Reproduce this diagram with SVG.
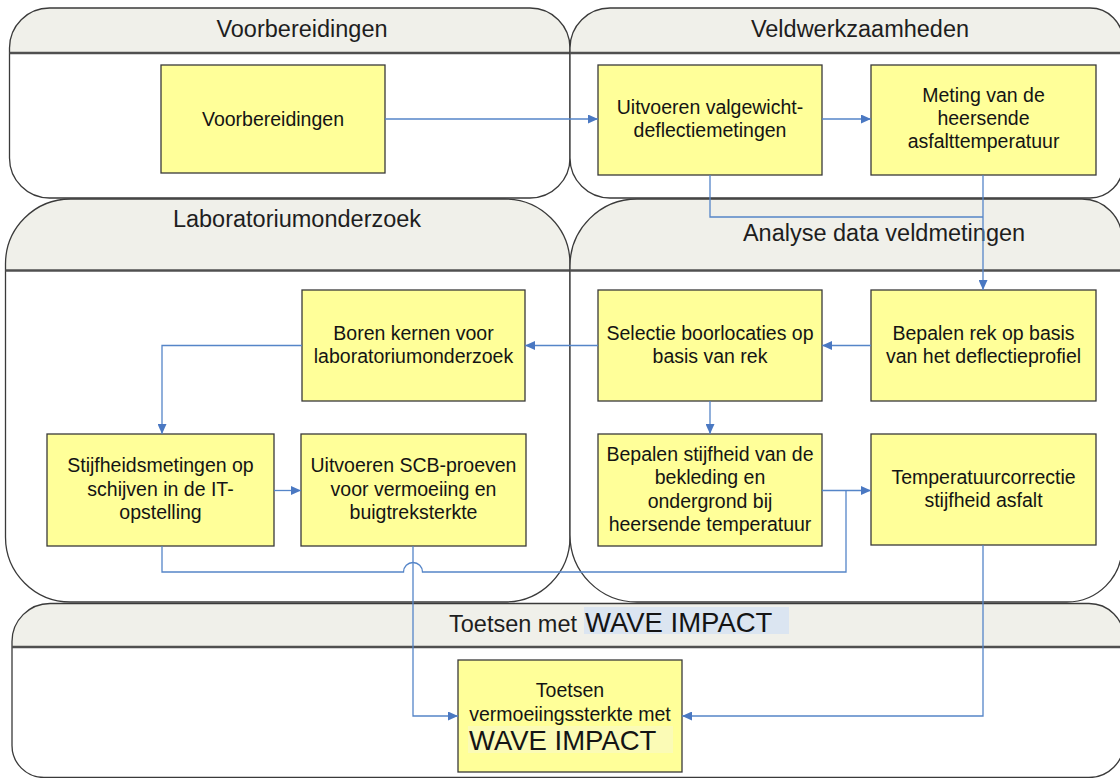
<svg xmlns="http://www.w3.org/2000/svg" xmlns:xlink="http://www.w3.org/1999/xlink" width="1120" height="778" viewBox="0 0 1120 778">
<style>
.lanebody{fill:#ffffff;stroke:none}
.laneedge{fill:none;stroke:#3a3a3a;stroke-width:1.3}
.hdr{fill:#f0f0ea}
.hline{stroke:#505050;stroke-width:2.4}
.ltitle{font-family:"Liberation Sans",Arial,sans-serif;font-size:23.5px;fill:#1e1e1e;text-anchor:middle}
.box{fill:#ffff99;stroke:#3a3a3a;stroke-width:1.3}
.bt{font-family:"Liberation Sans",Arial,sans-serif;font-size:19.5px;fill:#141414;text-anchor:middle}
.big{font-family:"Liberation Sans",Arial,sans-serif;font-size:27.5px;fill:#141414}
.con{fill:none;stroke:#5585c8;stroke-width:1.3}
</style>
<defs>
<marker id="arr" markerWidth="10" markerHeight="9" refX="10" refY="4.5" orient="auto" markerUnits="userSpaceOnUse">
<path d="M0,0 L10,4.5 L0,9 Z" fill="#4a78c2"/>
</marker>
<path id="s1" d="M49.5,8 H530 A40,40 0 0 1 570,48 V158 A40,40 0 0 1 530,198 H49.5 A40,40 0 0 1 9.5,158 V48 A40,40 0 0 1 49.5,8 Z"/>
<path id="s2" d="M610,8 H1090 A33,33 0 0 1 1123,41 V165 A33,33 0 0 1 1090,198 H610 A40,40 0 0 1 570,158 V48 A40,40 0 0 1 610,8 Z"/>
<path id="s3" d="M70.5,199 H505 A65,65 0 0 1 570,264 V537 A65,65 0 0 1 505,602 H70.5 A65,65 0 0 1 5.5,537 V264 A65,65 0 0 1 70.5,199 Z"/>
<path id="s4" d="M637,199 H1082 A40,40 0 0 1 1122,239 V547 A55,55 0 0 1 1067,602 H637 A67,67 0 0 1 570,535 V266 A67,67 0 0 1 637,199 Z"/>
<path id="s5" d="M50,603.5 H1089 A35,35 0 0 1 1124,638.5 V742.5 A35,35 0 0 1 1089,777.5 H44 A32,32 0 0 1 12,745.5 V641.5 A38,38 0 0 1 50,603.5 Z"/>
<clipPath id="c1"><use xlink:href="#s1"/></clipPath>
<clipPath id="c2"><use xlink:href="#s2"/></clipPath>
<clipPath id="c3"><use xlink:href="#s3"/></clipPath>
<clipPath id="c4"><use xlink:href="#s4"/></clipPath>
<clipPath id="c5"><use xlink:href="#s5"/></clipPath>
</defs>

<g id="lane-voorbereidingen">
<use xlink:href="#s1" class="lanebody"/>
<rect class="hdr" x="0" y="0" width="575" height="53" clip-path="url(#c1)"/>
<use xlink:href="#s1" class="laneedge"/>
<line class="hline" x1="9.5" y1="53" x2="570" y2="53"/>
<text class="ltitle" x="302" y="37">Voorbereidingen</text>
</g>

<g id="lane-veldwerkzaamheden">
<use xlink:href="#s2" class="lanebody"/>
<rect class="hdr" x="565" y="0" width="565" height="53" clip-path="url(#c2)"/>
<use xlink:href="#s2" class="laneedge"/>
<line class="hline" x1="570" y1="53" x2="1123" y2="53"/>
<text class="ltitle" x="860" y="37">Veldwerkzaamheden</text>
</g>

<g id="lane-laboratoriumonderzoek">
<use xlink:href="#s3" class="lanebody"/>
<rect class="hdr" x="0" y="190" width="575" height="80.5" clip-path="url(#c3)"/>
<use xlink:href="#s3" class="laneedge"/>
<line class="hline" x1="5.5" y1="270.5" x2="570" y2="270.5"/>
<text class="ltitle" x="297" y="227">Laboratoriumonderzoek</text>
</g>

<g id="lane-analyse">
<use xlink:href="#s4" class="lanebody"/>
<rect class="hdr" x="565" y="190" width="565" height="80.5" clip-path="url(#c4)"/>
<use xlink:href="#s4" class="laneedge"/>
<line class="hline" x1="570" y1="270.5" x2="1122" y2="270.5"/>
<text class="ltitle" x="884" y="241">Analyse data veldmetingen</text>
</g>

<g id="lane-toetsen">
<use xlink:href="#s5" class="lanebody"/>
<rect class="hdr" x="0" y="600" width="1130" height="47" clip-path="url(#c5)"/>
<use xlink:href="#s5" class="laneedge"/>
<line class="hline" x1="12" y1="647" x2="1124" y2="647"/>
<rect x="584" y="607" width="205" height="27" fill="#dbe5f1"/>
<text class="ltitle" x="449" y="632" style="text-anchor:start">Toetsen met</text>
<text class="big" x="585" y="632">WAVE IMPACT</text>
</g>

<g id="n-voorbereidingen">
<rect class="box" x="161" y="65" width="224" height="108"/>
<text class="bt" x="273" y="125.5">Voorbereidingen</text>
</g>

<g id="n-valgewicht">
<rect class="box" x="598" y="65" width="224" height="110"/>
<text class="bt" x="710" y="114">Uitvoeren valgewicht-</text>
<text class="bt" x="710" y="137">deflectiemetingen</text>
</g>

<g id="n-meting">
<rect class="box" x="871" y="65" width="225" height="110"/>
<text class="bt" x="983.5" y="102">Meting van de</text>
<text class="bt" x="983.5" y="125">heersende</text>
<text class="bt" x="983.5" y="148">asfalttemperatuur</text>
</g>

<g id="n-bepalen-rek">
<rect class="box" x="871" y="290" width="225" height="111"/>
<text class="bt" x="983.5" y="339.5">Bepalen rek op basis</text>
<text class="bt" x="983.5" y="362.5">van het deflectieprofiel</text>
</g>

<g id="n-selectie">
<rect class="box" x="598" y="290" width="224" height="111"/>
<text class="bt" x="710" y="339.5">Selectie boorlocaties op</text>
<text class="bt" x="710" y="362.5">basis van rek</text>
</g>

<g id="n-boren">
<rect class="box" x="302" y="290" width="223" height="111"/>
<text class="bt" x="413.5" y="339.5">Boren kernen voor</text>
<text class="bt" x="413.5" y="362.5">laboratoriumonderzoek</text>
</g>

<g id="n-stijfheidsmetingen">
<rect class="box" x="47" y="434" width="227" height="112"/>
<text class="bt" x="160.5" y="472">Stijfheidsmetingen op</text>
<text class="bt" x="160.5" y="495.5">schijven in de IT-</text>
<text class="bt" x="160.5" y="519">opstelling</text>
</g>

<g id="n-scb">
<rect class="box" x="301" y="434" width="225" height="112"/>
<text class="bt" x="413.5" y="472">Uitvoeren SCB-proeven</text>
<text class="bt" x="413.5" y="495.5">voor vermoeiing en</text>
<text class="bt" x="413.5" y="519">buigtreksterkte</text>
</g>

<g id="n-bepalen-stijfheid">
<rect class="box" x="598" y="434" width="224" height="112"/>
<text class="bt" x="710" y="461">Bepalen stijfheid van de</text>
<text class="bt" x="710" y="484">bekleding en</text>
<text class="bt" x="710" y="507.5">ondergrond bij</text>
<text class="bt" x="710" y="531">heersende temperatuur</text>
</g>

<g id="n-temperatuurcorrectie">
<rect class="box" x="871" y="434" width="225" height="111"/>
<text class="bt" x="983.5" y="484">Temperatuurcorrectie</text>
<text class="bt" x="983.5" y="507">stijfheid asfalt</text>
</g>

<g id="n-toetsen">
<rect class="box" x="458" y="660" width="224" height="112"/>
<rect x="468" y="726" width="205" height="27" fill="#fbfbb6"/>
<text class="bt" x="570" y="697">Toetsen</text>
<text class="bt" x="570" y="721">vermoeiingssterkte met</text>
<text class="big" x="469" y="750">WAVE IMPACT</text>
</g>

<g id="connectors">
<path class="con" d="M385,119 H598" marker-end="url(#arr)"/>
<path class="con" d="M822,119 H871" marker-end="url(#arr)"/>
<path class="con" d="M710,175 V217 H983"/>
<path class="con" d="M983,175 V290" marker-end="url(#arr)"/>
<path class="con" d="M871,345.5 H822" marker-end="url(#arr)"/>
<path class="con" d="M598,345.5 H525" marker-end="url(#arr)"/>
<path class="con" d="M302,345.5 H162 V434" marker-end="url(#arr)"/>
<path class="con" d="M710,401 V434" marker-end="url(#arr)"/>
<path class="con" d="M274,490.5 H301" marker-end="url(#arr)"/>
<path class="con" d="M822,490.5 H871" marker-end="url(#arr)"/>
<path class="con" d="M162,546 V572 H403.5 A9.5,9.5 0 0 1 422.5,572 H846 V490.5"/>
<path class="con" d="M413,546 V716 H458" marker-end="url(#arr)"/>
<path class="con" d="M983,545 V716 H682" marker-end="url(#arr)"/>
</g>
</svg>
